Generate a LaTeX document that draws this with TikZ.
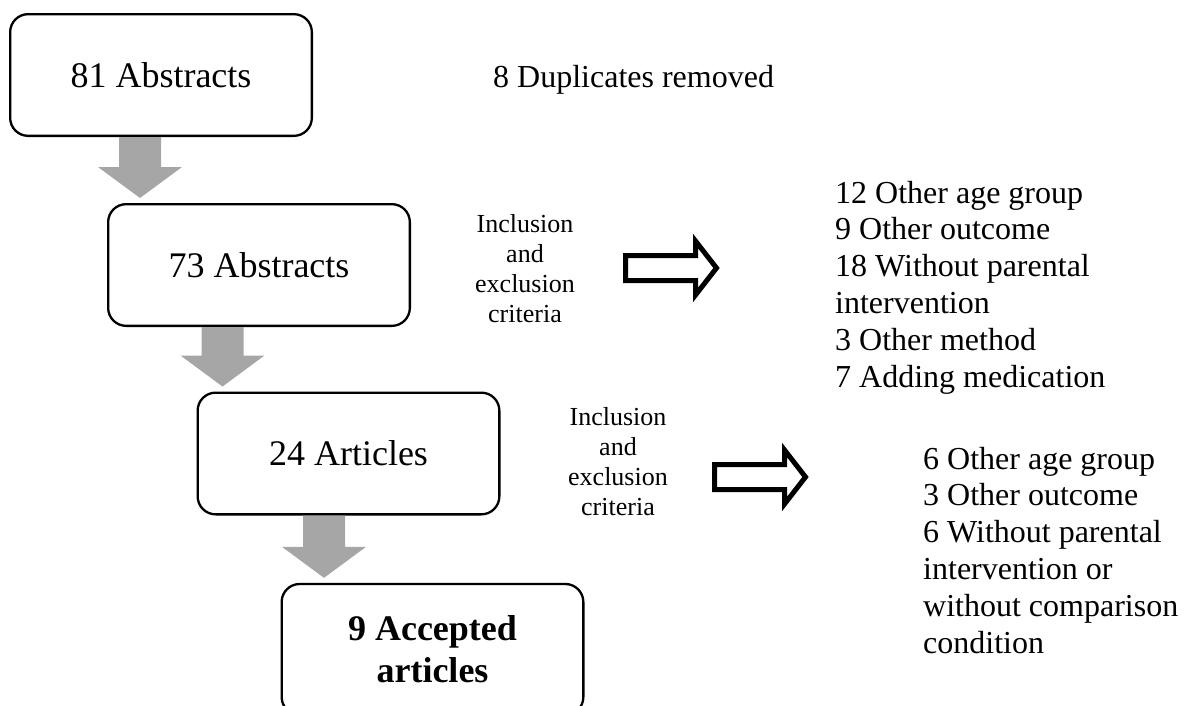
\documentclass[tikz,border=0pt]{standalone}
\usepackage{fontspec}
\setmainfont{Liberation Serif}
\usetikzlibrary{calc}
\definecolor{flowgray}{RGB}{166,166,166}

\begin{document}
\begin{tikzpicture}[x=1pt,y=-1pt,
  stagebox/.style={draw,line width=2.3pt,rounded corners=18pt,minimum width=301.7pt,minimum height=121.7pt,align=center,inner sep=0pt},
  bigtext/.style={font=\fontsize{36}{42}\selectfont},
  listtext/.style={font=\fontsize{32}{36.8}\selectfont,align=left,inner sep=0pt},
  crittext/.style={font=\fontsize{26}{30}\selectfont,align=center,inner sep=0pt},
  graydown/.style={fill=flowgray},
  hollowright/.style={draw,line width=5pt}]
\useasboundingbox (0,0) rectangle (1187,705);
\clip (0,0) rectangle (1187,705);
% Stages of the selection
\node[stagebox,bigtext] (abs81) at (161,75) {81 Abstracts};
\node[stagebox,bigtext] (abs73) at (259,265) {73 Abstracts};
\node[stagebox,bigtext] (art24) at (348.5,453.5) {24 Articles};
\node[stagebox,font=\fontsize{36}{42}\selectfont\bfseries,minimum height=131pt] (acc9) at (432.5,649.5) {9 Accepted\\articles};
% Gray block arrows between the stages
\foreach \up/\dn/\cx in {abs81/abs73/140,abs73/art24/222.5,art24/acc9/324}
  \fill[graydown] let \p1=(\up.south), \p2=(\dn.north) in
    ({\cx*1pt-21pt},\y1) -- ({\cx*1pt+21pt},\y1) -- ({\cx*1pt+21pt},{\y2+36pt})
    -- ({\cx*1pt+42pt},{\y2+36pt}) -- ({\cx*1pt},{\y2+5pt})
    -- ({\cx*1pt-42pt},{\y2+36pt}) -- ({\cx*1pt-21pt},{\y2+36pt}) -- cycle;
% Removed records
\node[listtext,anchor=base west] (dup) at (493,87) {8 Duplicates removed};
\node[crittext,anchor=base] (crit1) at (525,322) {Inclusion\\and\\exclusion\\criteria};
\node[crittext,anchor=base] (crit2) at (618,515) {Inclusion\\and\\exclusion\\criteria};
% Hollow arrows
\foreach \xl/\cy in {625.5/268,714.5/477}
  \draw[hollowright] (\xl,\cy-12.5) -- (\xl+70,\cy-12.5) -- (\xl+70,\cy-27) -- (\xl+91,\cy)
    -- (\xl+70,\cy+27) -- (\xl+70,\cy+12.5) -- (\xl,\cy+12.5) -- cycle;
\node[listtext,anchor=base west] (excl1) at (835,387) {12 Other age group\\9 Other outcome\\18 Without parental\\intervention\\3 Other method\\7 Adding medication};
\node[listtext,anchor=base west] (excl2) at (923,653) {6 Other age group\\3 Other outcome\\6 Without parental\\intervention or\\without comparison\\condition};
\end{tikzpicture}
\end{document}
